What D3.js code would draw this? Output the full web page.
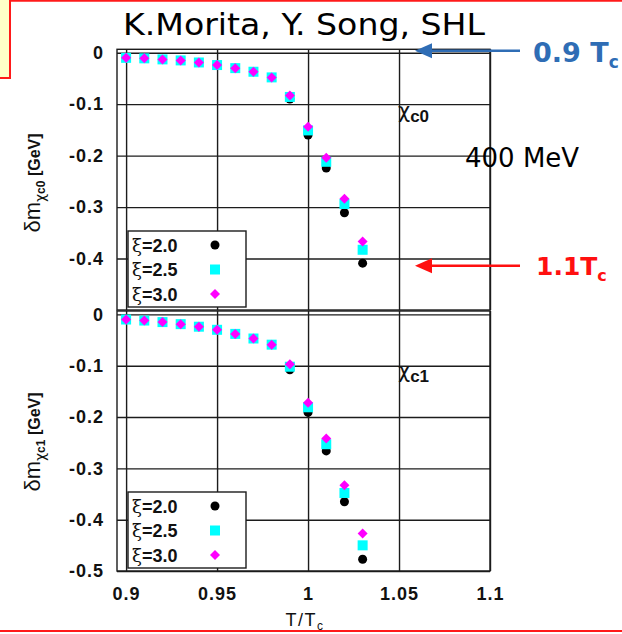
<!DOCTYPE html>
<html><head><meta charset="utf-8">
<script src="https://cdn.jsdelivr.net/npm/d3@7"></script>
<style>body{margin:0;background:#fff}svg{display:block}</style>
</head><body>
<svg id="chart" width="622" height="634"></svg>
<script>
// ---- data ----
const temps = [0.90,0.91,0.92,0.93,0.94,0.95,0.96,0.97,0.98,0.99,1.00,1.01,1.02,1.03];
const chic0_xi20 = [-0.010,-0.011,-0.013,-0.015,-0.019,-0.024,-0.030,-0.037,-0.048,-0.090,-0.160,-0.224,-0.311,-0.409];
const chic0_xi25 = [-0.010,-0.011,-0.013,-0.015,-0.019,-0.024,-0.030,-0.037,-0.048,-0.086,-0.151,-0.212,-0.294,-0.383];
const chic0_xi30 = [-0.010,-0.011,-0.013,-0.015,-0.019,-0.024,-0.030,-0.037,-0.048,-0.083,-0.144,-0.204,-0.284,-0.367];
const chic1_xi20 = [-0.010,-0.012,-0.015,-0.019,-0.024,-0.030,-0.038,-0.047,-0.059,-0.108,-0.191,-0.266,-0.365,-0.477];
const chic1_xi25 = [-0.010,-0.012,-0.015,-0.019,-0.024,-0.030,-0.038,-0.047,-0.059,-0.102,-0.181,-0.253,-0.348,-0.450];
const chic1_xi30 = [-0.010,-0.012,-0.015,-0.019,-0.024,-0.030,-0.038,-0.047,-0.059,-0.097,-0.172,-0.242,-0.333,-0.427];
const seriesNames = ["ξ=2.0","ξ=2.5","ξ=3.0"];
const xTicks = [0.9,0.95,1,1.05,1.1];
const yTicksTop = [0,-0.1,-0.2,-0.3,-0.4];
const yTicksBottom = [0,-0.1,-0.2,-0.3,-0.4,-0.5];
const titleText = "K.Morita, Y. Song, SHL";

const svg = d3.select("#chart");
const tickFont = "'Liberation Sans', Arial, sans-serif";
const gridColor = "#1c1c1c";

// frame decorations
svg.append("rect").attr("x",-10).attr("y",-10).attr("width",20).attr("height",88)
  .attr("fill","#ffffc8").attr("stroke","#ff1a1a").attr("stroke-width",2);
svg.append("line").attr("x1",10).attr("x2",622).attr("y1",0.8).attr("y2",0.8)
  .attr("stroke","#ff1a1a").attr("stroke-width",2);
svg.append("line").attr("x1",0).attr("x2",622).attr("y1",631).attr("y2",631)
  .attr("stroke","#ff1a1a").attr("stroke-width",2);

const x = d3.scaleLinear().domain([0.895,1.1]).range([117,490]);

const panels = [
  {top:49.3, bottom:310, ys:[chic0_xi20,chic0_xi25,chic0_xi30], ticks:yTicksTop, sub:"c0", legTop:231, annY:112, labY:183, xAxis:false},
  {top:311, bottom:571, ys:[chic1_xi20,chic1_xi25,chic1_xi30], ticks:yTicksBottom, sub:"c1", legTop:492, annY:372, labY:442, xAxis:true}
];

const colors = ["#000000","#00ffff","#ff00ff"];
function marker(g, i, cx, cy){
  if(i===0) g.append("circle").attr("cx",cx).attr("cy",cy).attr("r",4.5).attr("fill",colors[0]);
  else if(i===1) g.append("rect").attr("x",cx-5).attr("y",cy-5).attr("width",10).attr("height",10).attr("fill",colors[1]);
  else g.append("path").attr("d",`M${cx},${cy-5}L${cx+5},${cy}L${cx},${cy+5}L${cx-5},${cy}Z`).attr("fill",colors[2]);
}

panels.forEach(p=>{
  const y = d3.scaleLinear().domain([-0.5,0.0066]).range([p.bottom,p.top]);
  const g = svg.append("g");
  // horizontal grid + labels
  const ya = d3.axisLeft(y).tickValues(p.ticks).tickSize(-(490-117)).tickPadding(13)
    .tickFormat(v=> v===0 ? "0" : v.toFixed(1));
  const yg = g.append("g").attr("transform","translate(117,0)").call(ya);
  yg.select(".domain").remove();
  yg.selectAll(".tick line").attr("stroke",gridColor).attr("stroke-width",1.4);
  yg.selectAll(".tick text").attr("font-family",tickFont).attr("font-weight","bold")
    .attr("font-size",18).attr("letter-spacing",1).attr("fill","#111");
  // vertical grid
  const xa = d3.axisBottom(x).tickValues(xTicks).tickSize(-(p.bottom-p.top)).tickPadding(16)
    .tickFormat(v=> p.xAxis ? String(v) : "");
  const xg = g.append("g").attr("transform",`translate(0,${p.bottom})`).call(xa);
  xg.select(".domain").remove();
  xg.selectAll(".tick line").attr("stroke",gridColor).attr("stroke-width",1.4);
  xg.selectAll(".tick text").attr("font-family",tickFont).attr("font-weight","bold")
    .attr("font-size",18).attr("letter-spacing",1).attr("fill","#111");
  // border
  g.append("rect").attr("x",117).attr("y",p.top).attr("width",490-117).attr("height",p.bottom-p.top)
    .attr("fill","none").attr("stroke",gridColor).attr("stroke-width",1.4);
  // data
  const dg = g.append("g");
  p.ys.forEach((vals,i)=>{
    vals.forEach((v,k)=> marker(dg,i,x(temps[k]),y(v)));
  });
  // annotation chi label
  const ann = g.append("text").attr("x",398).attr("y",p.annY+6).attr("fill","#111")
    .attr("font-family",tickFont);
  ann.append("tspan").attr("font-size",21).attr("font-family","'DejaVu Sans', sans-serif").text("χ");
  ann.append("tspan").attr("font-size",17).attr("font-weight","bold").attr("dy",4).text(p.sub);
  // legend
  const lg = g.append("g");
  lg.append("rect").attr("x",128).attr("y",p.legTop).attr("width",118).attr("height",76)
    .attr("fill","#fff").attr("stroke",gridColor).attr("stroke-width",1.4);
  seriesNames.forEach((nm,i)=>{
    const cy = p.legTop + 14 + i*24.5;
    const t = lg.append("text").attr("x",132).attr("y",cy+6.5).attr("font-family",tickFont)
      .attr("font-size",18).attr("font-weight","bold").attr("fill","#111");
    t.append("tspan").attr("font-weight","normal").attr("font-family","'DejaVu Serif', serif").attr("font-size",18).text(nm.slice(0,1));
    t.append("tspan").text(nm.slice(1));
    marker(lg,i,215,cy);
  });
  // y axis label
  const lab = g.append("text").attr("transform",`translate(40,${p.labY}) rotate(-90)`)
    .attr("text-anchor","middle").attr("font-family",tickFont).attr("fill","#111");
  lab.append("tspan").attr("font-size",22).text("δm");
  lab.append("tspan").attr("font-size",14).attr("dy",5).attr("font-family","'DejaVu Sans', sans-serif").text("χ");
  lab.append("tspan").attr("font-size",12).attr("font-weight","bold").text(p.sub);
  lab.append("tspan").attr("font-size",16).attr("dy",-5).attr("font-weight","bold").text(" [GeV]");
});

// x axis title
const xt = svg.append("text").attr("x",305).attr("y",626).attr("text-anchor","middle")
  .attr("font-family",tickFont).attr("font-size",18).attr("letter-spacing",1.5).attr("fill","#111");
xt.append("tspan").text("T/T");
xt.append("tspan").attr("font-size",12).attr("dy",4).text("c");

// title
svg.append("text").attr("x",123).attr("y",35).attr("font-family","'DejaVu Sans', sans-serif")
  .attr("font-size",30).attr("textLength",362).attr("lengthAdjust","spacingAndGlyphs").attr("fill","#000").text(titleText);

// 400 MeV
svg.append("text").attr("x",465).attr("y",167).attr("font-family","'DejaVu Sans', sans-serif")
  .attr("font-size",26).attr("fill","#000").text("400 MeV");

// arrows
function arrow(y0, color){
  svg.append("line").attr("x1",520).attr("x2",428).attr("y1",y0).attr("y2",y0)
    .attr("stroke",color).attr("stroke-width",2.5);
  svg.append("path").attr("d",`M415,${y0}L432,${y0-7.5}L432,${y0+7.5}Z`).attr("fill",color);
}
arrow(50.7,"#2f6db5");
arrow(265.7,"#ff1010");

const t1 = svg.append("text").attr("x",533).attr("y",61.7).attr("font-family","'DejaVu Sans', sans-serif")
  .attr("font-weight","bold").attr("font-size",27).attr("fill","#2f6db5");
t1.append("tspan").text("0.9 T");
t1.append("tspan").attr("font-size",17).attr("dy",6).text("c");

const t2 = svg.append("text").attr("x",536).attr("y",275).attr("font-family","'DejaVu Sans', sans-serif")
  .attr("font-weight","bold").attr("font-size",25).attr("fill","#ff1010");
t2.append("tspan").text("1.1T");
t2.append("tspan").attr("font-size",16).attr("dy",6).text("c");
</script>
</body></html>
